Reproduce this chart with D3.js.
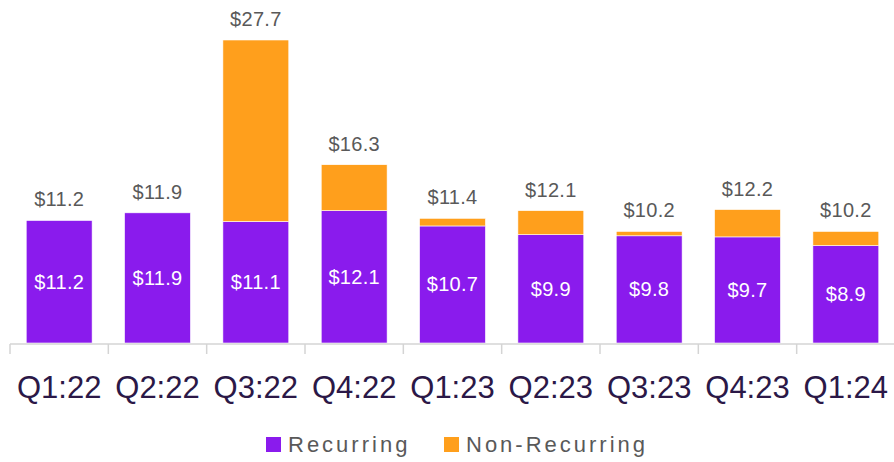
<!DOCTYPE html>
<html>
<head>
<meta charset="utf-8">
<script src="https://cdn.jsdelivr.net/npm/d3@7"></script>
<style>
  html,body{margin:0;padding:0;background:#fff}
  svg{display:block}
</style>
</head>
<body>
<div id="chart"></div>
<script>
// quarterly values, $
var quarters=['Q1:22','Q2:22','Q3:22','Q4:22','Q1:23','Q2:23','Q3:23','Q4:23','Q1:24'];
var recurring=[11.2,11.9,11.1,12.1,10.7,9.9,9.8,9.7,8.9];
var nonRecurring=[0,0,16.6,4.2,0.7,2.2,0.4,2.5,1.3];
var totals=[11.2,11.9,27.7,16.3,11.4,12.1,10.2,12.2,10.2];
var seriesNames=['Recurring','Non-Recurring'];

var W=894,H=462;
var C={purple:'#8a1bed',orange:'#ff9f1c',axis:'#d4d4d4',label:'#595959',cat:'#2b1847'};
var F='Arial,"Liberation Sans",sans-serif';

var svg=d3.select('#chart').append('svg').attr('width',W).attr('height',H);

var x=d3.scaleBand().domain(quarters).range([10,895]).paddingInner(0.33).paddingOuter(0.165);
var y=d3.scaleLinear().domain([0,27.7]).range([343,40]);

var rows=quarters.map(function(q,i){return {q:q,rec:recurring[i],non:nonRecurring[i],tot:totals[i]}});

// recurring bars
svg.selectAll('rect.rec').data(rows).enter().append('rect').attr('class','rec')
  .attr('x',function(d){return x(d.q)}).attr('width',x.bandwidth())
  .attr('y',function(d){return y(d.rec)}).attr('height',function(d){return y(0)-y(d.rec)})
  .attr('fill',C.purple).attr('stroke','#fff').attr('stroke-width',0.6);

// non-recurring on top
svg.selectAll('rect.non').data(rows.filter(function(d){return d.non>0})).enter().append('rect').attr('class','non')
  .attr('x',function(d){return x(d.q)}).attr('width',x.bandwidth())
  .attr('y',function(d){return y(d.rec+d.non)}).attr('height',function(d){return y(d.rec)-y(d.rec+d.non)})
  .attr('fill',C.orange).attr('stroke','#fff').attr('stroke-width',0.6);

// inside labels
svg.selectAll('text.in').data(rows).enter().append('text').attr('class','in')
  .attr('x',function(d){return x(d.q)+x.bandwidth()/2})
  .attr('y',function(d){return (y(0)+y(d.rec))/2})
  .attr('text-anchor','middle').attr('dominant-baseline','central')
  .attr('font-family',F).attr('font-size',20).attr('letter-spacing',0.3).attr('fill','#fff')
  .text(function(d){return '$'+d.rec.toFixed(1)});

// total labels
svg.selectAll('text.tot').data(rows).enter().append('text').attr('class','tot')
  .attr('x',function(d){return x(d.q)+x.bandwidth()/2})
  .attr('y',function(d){return y(d.tot)-14})
  .attr('text-anchor','middle')
  .attr('font-family',F).attr('font-size',20).attr('letter-spacing',0.3).attr('fill',C.label)
  .text(function(d){return '$'+d.tot.toFixed(1)});

// x axis line and boundary ticks
var base=y(0)+1;
svg.append('line').attr('x1',10).attr('x2',W).attr('y1',base).attr('y2',base).attr('stroke',C.axis).attr('stroke-width',1.5);
var gap=x.step()*x.paddingInner()/2;
var bounds=quarters.map(function(q){return x(q)-gap}).concat([x(quarters[quarters.length-1])+x.bandwidth()+gap]);
svg.selectAll('line.tk').data(bounds).enter().append('line').attr('class','tk')
  .attr('x1',function(d){return d}).attr('x2',function(d){return d})
  .attr('y1',base).attr('y2',base+10).attr('stroke',C.axis).attr('stroke-width',1.5);

// category labels
svg.selectAll('text.cat').data(quarters).enter().append('text').attr('class','cat')
  .attr('x',function(d){return x(d)+x.bandwidth()/2}).attr('y',398)
  .attr('text-anchor','middle').attr('font-family',F).attr('font-size',31).attr('fill',C.cat)
  .text(function(d){return d});

// legend
var lg=svg.append('g');
var legendX=[266,444], legendCol=[C.purple,C.orange];
seriesNames.forEach(function(n,i){
  lg.append('rect').attr('x',legendX[i]).attr('y',437).attr('width',15).attr('height',15).attr('fill',legendCol[i]);
  lg.append('text').attr('x',legendX[i]+22).attr('y',452).attr('font-family',F).attr('font-size',22)
    .attr('letter-spacing',3).attr('fill',C.label).text(n);
});
</script>
</body>
</html>
